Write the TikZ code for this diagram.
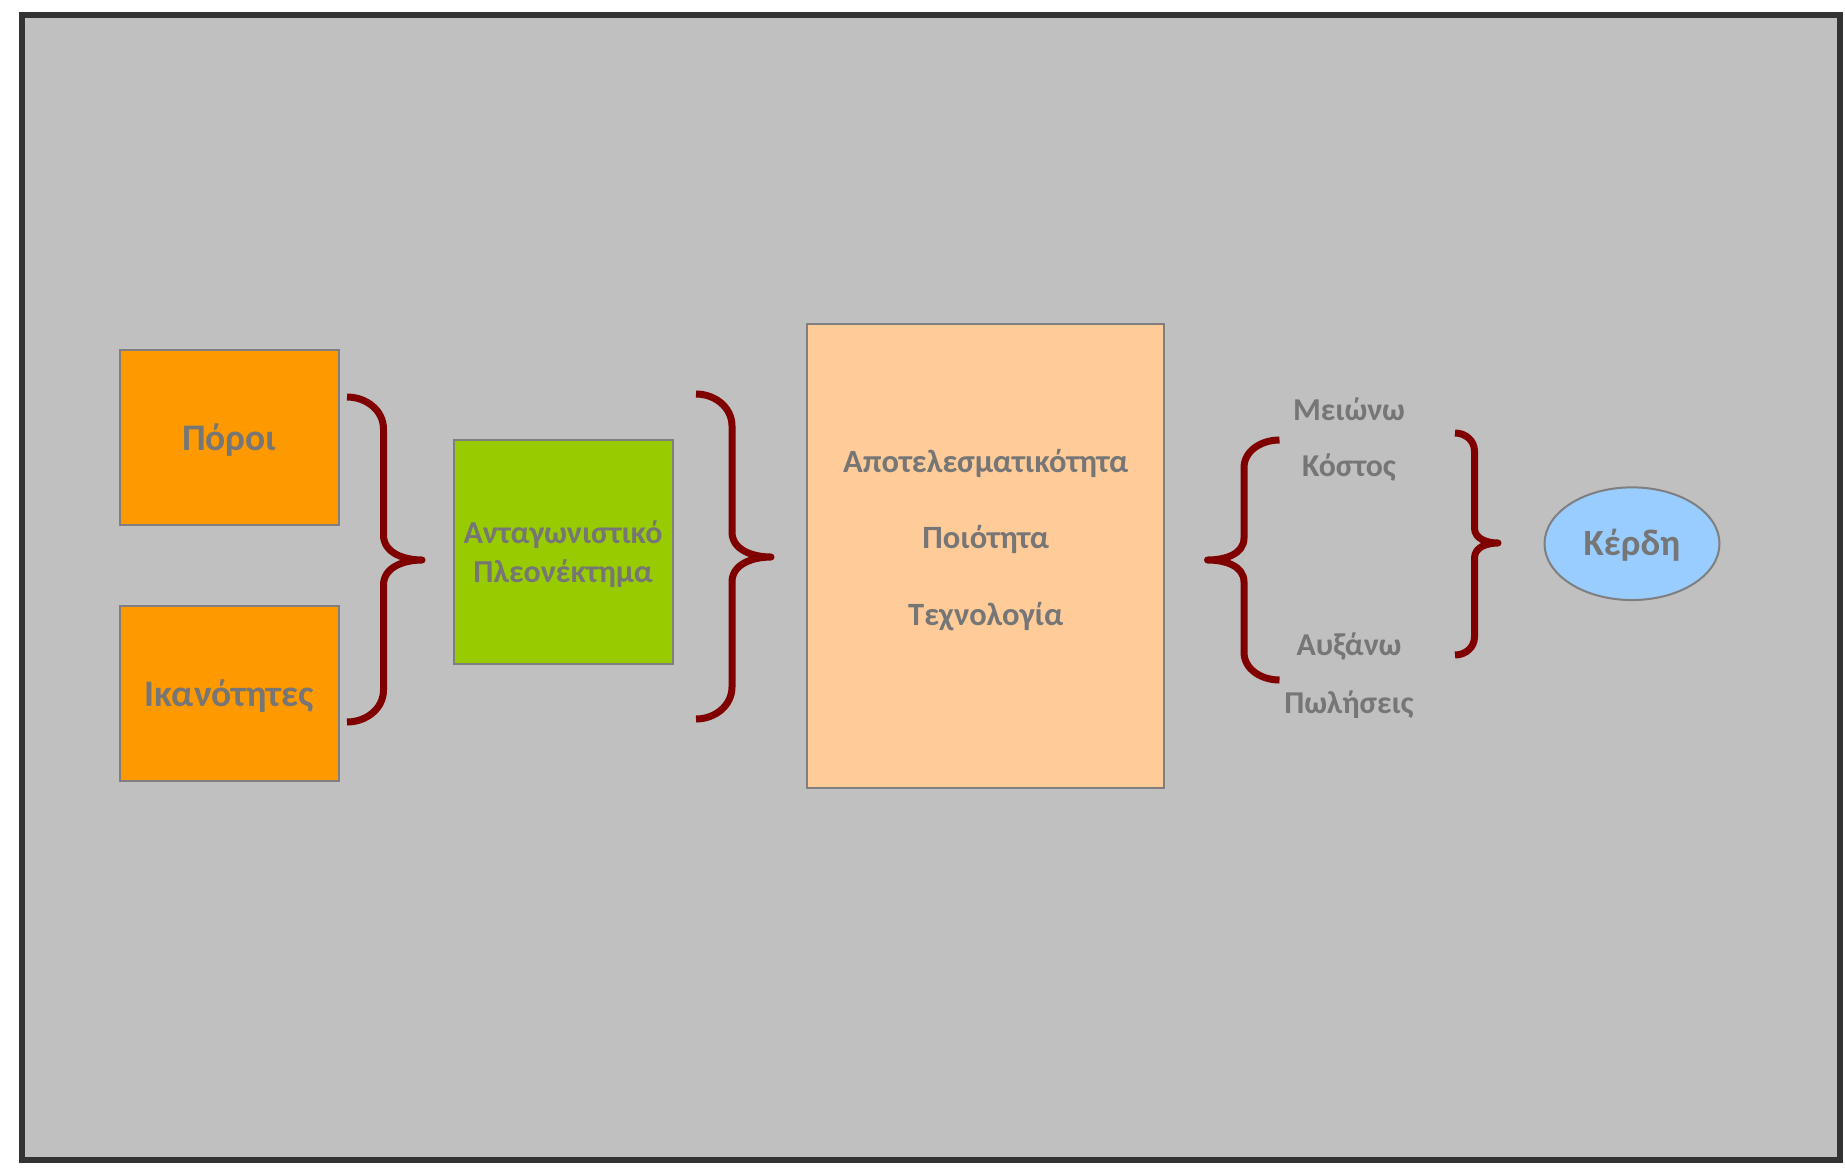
\documentclass[tikz,border=0pt]{standalone}
\usepackage{fontspec}
\setmainfont{Carlito}
\usetikzlibrary{shapes.geometric}
\definecolor{bg}{HTML}{C0C0C0}
\definecolor{frame}{HTML}{333333}
\definecolor{boxline}{HTML}{7F7F7F}
\definecolor{txt}{HTML}{767676}
\definecolor{orangebox}{HTML}{FF9900}
\definecolor{greenbox}{HTML}{99CC00}
\definecolor{peachbox}{HTML}{FFCC99}
\definecolor{bluebox}{HTML}{99CCFF}
\definecolor{bracered}{HTML}{800000}
\begin{document}
\begin{tikzpicture}[x=1pt,y=-1pt,
  fbox/.style={draw=boxline,line width=2pt,rectangle,inner sep=0pt},
  lbl/.style={text=txt,font=\bfseries,anchor=base,inner sep=0pt},
  brc/.style={draw=bracered,line width=7pt,line join=round,line cap=butt}]
\useasboundingbox[fill=white] (0,0) rectangle (1845,1168);
\draw[draw=frame,fill=bg,line width=6pt] (22,15) rectangle (1840,1160);
% boxes
\node[fbox,fill=orangebox,minimum width=219.5pt,minimum height=175.5pt] (poroi) at (229.3,437.3) {};
\node[fbox,fill=orangebox,minimum width=219.5pt,minimum height=175.5pt] (ikan) at (229.3,693.5) {};
\node[fbox,fill=greenbox,minimum width=219pt,minimum height=224pt] (antag) at (563,552) {};
\node[fbox,fill=peachbox,minimum width=356.7pt,minimum height=464.3pt] (apot) at (985.7,556.2) {};
\node[draw=boxline,line width=2pt,ellipse,fill=bluebox,minimum width=175pt,minimum height=112.7pt,inner sep=0pt] (kerdi) at (1632,543.7) {};
% texts
\node[lbl,font=\bfseries\fontsize{37.5}{40}\selectfont] (t1) at (229.3,450) {Πόροι};
\node[lbl,font=\bfseries\fontsize{37.5}{40}\selectfont] (t2) at (229.3,706.7) {Ικανότητες};
\node[lbl,font=\bfseries\fontsize{32}{34}\selectfont] (t3) at (563,543.3) {Ανταγωνιστικό};
\node[lbl,font=\bfseries\fontsize{32}{34}\selectfont] (t4) at (563,582.3) {Πλεονέκτημα};
\node[lbl,font=\bfseries\fontsize{32.5}{36}\selectfont] (t5) at (985.7,472.3) {Αποτελεσματικότητα};
\node[lbl,font=\bfseries\fontsize{32.5}{36}\selectfont] (t6) at (985.7,548.3) {Ποιότητα};
\node[lbl,font=\bfseries\fontsize{32.5}{36}\selectfont] (t7) at (985.7,625) {Τεχνολογία};
\node[lbl,font=\bfseries\fontsize{31.8}{34}\selectfont] (t8) at (1349,420) {Μειώνω};
\node[lbl,font=\bfseries\fontsize{31.8}{34}\selectfont] (t9) at (1349,476.7) {Κόστος};
\node[lbl,font=\bfseries\fontsize{31.8}{34}\selectfont] (t10) at (1349,655) {Αυξάνω};
\node[lbl,font=\bfseries\fontsize{31.8}{34}\selectfont] (t11) at (1349,713.3) {Πωλήσεις};
\node[lbl,font=\bfseries\fontsize{37}{40}\selectfont] (t12) at (1632,555.7) {Κέρδη};
% braces
\draw[brc] (347,397) to[out=0,in=90] (383.5,429) -- (383.5,535) to[out=-90,in=180] (422,560)
  to[out=180,in=90] (383.5,585) -- (383.5,690) to[out=-90,in=0] (347,722);
\draw[brc] (696,394) to[out=0,in=90] (732,426) -- (732,532) to[out=-90,in=180] (771,557)
  to[out=180,in=90] (732,582) -- (732,687) to[out=-90,in=0] (696,719);
\draw[brc] (1279.5,440) to[out=180,in=90] (1244,468) -- (1244,538) to[out=-90,in=0] (1207.5,560)
  to[out=0,in=90] (1244,582) -- (1244,652) to[out=-90,in=180] (1279.5,680);
\draw[brc] (1455,433) to[out=0,in=90] (1474.5,451) -- (1474.5,528) to[out=-90,in=180] (1498,543)
  to[out=180,in=90] (1474.5,558) -- (1474.5,637) to[out=-90,in=0] (1455,655);
\end{tikzpicture}
\end{document}
